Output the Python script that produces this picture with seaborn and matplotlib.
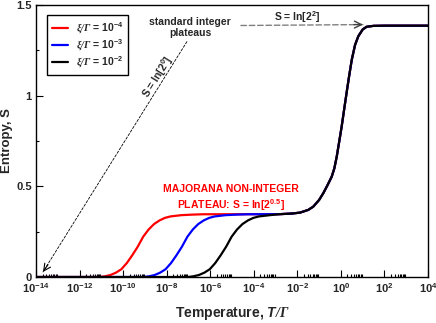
import numpy as np
import pandas as pd
import seaborn as sns
import matplotlib.pyplot as plt
import matplotlib.ticker as mticker

# entropy curves (x = log10 of T/Gamma)
red_logT = [-14, -11.08, -10.83, -10.58, -10.33, -10.08, -9.83, -9.58, -9.33, -9.08,
            -8.83, -8.58, -8.33, -8.08, -7.83, -7.33, -6.83, -6.33]
blue_logT = [-14, -9.05, -8.8, -8.55, -8.3, -8.05, -7.8, -7.55, -7.3, -7.05,
             -6.8, -6.55, -6.3, -6.05, -5.8, -5.3, -4.8, -4.3]
red_S = [0.0, 0.0, 0.004, 0.011, 0.024, 0.043, 0.077, 0.12, 0.167, 0.222,
         0.262, 0.292, 0.312, 0.326, 0.334, 0.341, 0.344, 0.346]
blue_S = [0.0, 0.0, 0.004, 0.011, 0.024, 0.043, 0.077, 0.12, 0.167, 0.222,
          0.262, 0.292, 0.312, 0.326, 0.334, 0.341, 0.344, 0.346]

black_logT = [-14, -7.02, -6.77, -6.52, -6.27, -6.02, -5.77, -5.52, -5.27, -5.02,
              -4.77, -4.52, -4.27, -4.02, -3.77, -3.27]
black_S = [0.0, 0.0, 0.004, 0.011, 0.024, 0.043, 0.077, 0.12, 0.167, 0.222,
           0.262, 0.292, 0.312, 0.326, 0.334, 0.341]

# second step, shared by all three curves
high_logT = [-2.8, -2.25, -1.88, -1.5, -1.27, -1.0, -0.81, -0.6, -0.42, -0.3,
             -0.19, -0.08, 0.035, 0.15, 0.26, 0.38, 0.5, 0.65, 0.8, 1.0,
             1.18, 1.5, 2.0, 4.0]
high_S = [0.3466, 0.350, 0.355, 0.370, 0.388, 0.425, 0.462, 0.51, 0.554, 0.60,
          0.665, 0.745, 0.83, 0.925, 1.015, 1.11, 1.199, 1.28, 1.328, 1.365,
          1.38, 1.385, 1.386, 1.386]

labels = [r'$\mathrm{\xi/\Gamma}$ = 10$^{\mathbf{-4}}$',
          r'$\mathrm{\xi/\Gamma}$ = 10$^{\mathbf{-3}}$',
          r'$\mathrm{\xi/\Gamma}$ = 10$^{\mathbf{-2}}$']
colors = ['#ff0000', '#0000ff', '#000000']

frames = []
for lab, lx, ly in zip(labels, [red_logT, blue_logT, black_logT], [red_S, blue_S, black_S]):
    lt = list(lx) + high_logT
    s = list(ly) + high_S
    frames.append(pd.DataFrame({'T': np.power(10.0, lt), 'S': s, 'curve': lab}))
df = pd.concat(frames, ignore_index=True)

sns.set_style('ticks')
plt.rcParams['font.family'] = ['Liberation Sans', 'DejaVu Sans']
plt.rcParams['font.weight'] = 'bold'
plt.rcParams['mathtext.fontset'] = 'custom'
plt.rcParams['mathtext.rm'] = 'Liberation Serif:italic'
plt.rcParams['mathtext.it'] = 'Liberation Sans:bold:italic'
plt.rcParams['mathtext.bf'] = 'Liberation Sans:bold'

fig, ax = plt.subplots(figsize=(4.36, 3.23), dpi=100)
fig.subplots_adjust(left=0.0826, right=0.9817, top=0.9845, bottom=0.1424)

sns.lineplot(data=df, x='T', y='S', hue='curve', hue_order=labels, palette=colors,
             estimator=None, lw=1.6, ax=ax)

ax.set_xscale('log')
ax.set_xlim(1e-14, 1e4)
ax.set_ylim(0, 1.5)
ax.xaxis.set_major_locator(mticker.LogLocator(base=100, numticks=20))
ax.xaxis.set_minor_locator(mticker.LogLocator(base=100, subs=np.arange(2, 10), numticks=20))
ax.xaxis.set_major_formatter(mticker.FuncFormatter(
    lambda v, p: '10$^{\\mathbf{%d}}$' % int(round(np.log10(v)))))
ax.yaxis.set_major_locator(mticker.FixedLocator([0, 0.5, 1, 1.5]))
ax.yaxis.set_minor_locator(mticker.FixedLocator([0.25, 0.75, 1.25]))
ax.yaxis.set_major_formatter(mticker.FuncFormatter(lambda v, p: '%g' % v))
ax.tick_params(which='both', direction='in', top=False, right=False, width=0.8,
               labelsize=8, color='black')
ax.tick_params(which='major', length=5, pad=3)
ax.tick_params(which='minor', length=2.5)
for sp in ax.spines.values():
    sp.set_visible(True)
    sp.set_linewidth(1.0)
    sp.set_color('black')

ax.set_xlabel('Temperature, ' + r'$\mathit{T}\mathrm{/\Gamma}$', fontsize=10,
              fontweight='bold', labelpad=7)
ax.set_ylabel('Entropy, S', fontsize=9.5, fontweight='bold', labelpad=2)

handles, labs = ax.get_legend_handles_labels()
leg = ax.legend(handles, labs, loc='upper left', bbox_to_anchor=(0.028, 0.963),
                borderaxespad=0, fancybox=False, edgecolor='black', framealpha=1,
                fontsize=7.5, handlelength=1.55, borderpad=0.5, labelspacing=0.15,
                handletextpad=0.7)
leg.get_frame().set_linewidth(1.0)

# annotations
ax.text(10**-6.93, 1.376, 'standard integer\nplateaus', ha='center', va='center',
        fontsize=7.5, linespacing=1.1)
ax.text(10**-2.02, 1.436, 'S = ln[2' + r'$^{\mathbf{2}}$' + ']', ha='center', va='center',
        fontsize=7.5)
ax.text(10**-8.40, 1.105, 'S = ln[2' + r'$^{\mathbf{0}}$' + ']', ha='center', va='center',
        rotation=58, rotation_mode='anchor', fontsize=7.5)
ax.text(10**-5.05, 0.433, 'MAJORANA NON-INTEGER\nPLATEAU: S = ln[2' + r'$^{\mathbf{0.5}}$' + ']',
        color='#ff0000', ha='center', va='center', fontsize=7.5, linespacing=1.3)

# diagonal dashed arrow
ax.annotate('', xy=(10**-13.68, 0.028), xytext=(10**-7.07, 1.298),
            arrowprops=dict(arrowstyle='-', ls=(0, (3, 2)), lw=0.6, color='black',
                            shrinkA=0, shrinkB=0))
ax.annotate('', xy=(10**-13.68, 0.028), xytext=(10**-13.45, 0.068),
            arrowprops=dict(arrowstyle='->,head_length=0.5,head_width=0.25', lw=0.8,
                            color='black', shrinkA=0, shrinkB=0))
# horizontal dashed arrow
ax.annotate('', xy=(10**1.01, 1.392), xytext=(10**-4.59, 1.387),
            arrowprops=dict(arrowstyle='-', ls=(0, (4, 2)), lw=1.0, color='#808080',
                            shrinkA=0, shrinkB=0))
ax.annotate('', xy=(10**1.01, 1.392), xytext=(10**0.6, 1.392),
            arrowprops=dict(arrowstyle='->,head_length=0.5,head_width=0.25', lw=1.0,
                            color='#404040', shrinkA=0, shrinkB=0))

fig.savefig('out.png', dpi=100)
